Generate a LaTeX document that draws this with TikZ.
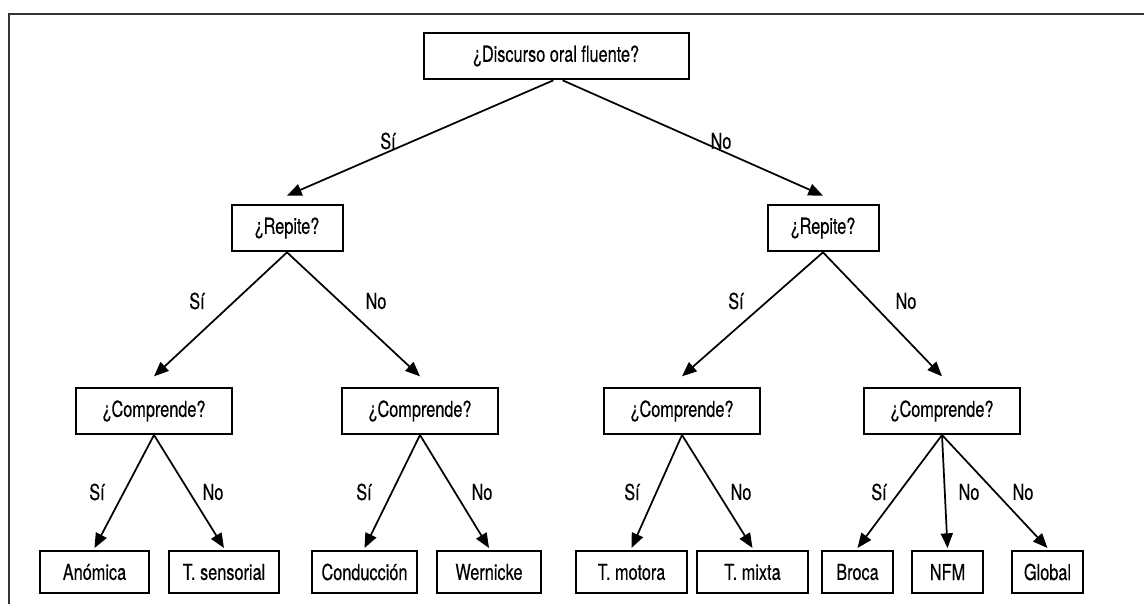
\documentclass[tikz,border=0pt]{standalone}
\usepackage{fontspec}
\setmainfont{TeX Gyre Heros}[FakeStretch=0.74,FakeBold=0.3]
\usepackage{tikz}
\usetikzlibrary{arrows.meta,positioning}
\tikzset{every node/.append style={font=\fontsize{16.5}{19}\selectfont}}

\begin{document}
\begin{tikzpicture}[x=0.75pt,y=-0.75pt,
  qbox/.style={draw,line width=1.5pt,inner sep=0pt,minimum height=35pt},
  leaf/.style={draw,line width=1.5pt,inner sep=0pt,minimum height=31.5pt},
  edge/.style={line width=1.3pt,-{Triangle[length=11pt,width=9pt]}},
  lab/.style={inner sep=1pt}]
\useasboundingbox (0,0) rectangle (1144,604);
\draw[line width=2.2pt,black!80] (9,604) -- (9,14) -- (1144,14);
% preguntas
\node[qbox,minimum width=198.75pt] (disc) at (556,56) {¿Discurso oral fluente?};
\node[qbox,minimum width=83.25pt] (repL) at (287,228) {¿Repite?};
\node[qbox,minimum width=83.25pt] (repR) at (823,228) {¿Repite?};
\node[qbox,minimum width=117pt,minimum height=34.5pt] (comA) at (154,411) {¿Comprende?};
\node[qbox,minimum width=117pt,minimum height=34.5pt] (comB) at (420,411) {¿Comprende?};
\node[qbox,minimum width=117pt,minimum height=34.5pt] (comC) at (682,411) {¿Comprende?};
\node[qbox,minimum width=117pt,minimum height=34.5pt] (comD) at (942,411) {¿Comprende?};
% diagnosticos
\node[leaf,minimum width=81.75pt] (anom) at (94.5,572) {Anómica};
\node[leaf,minimum width=82.5pt] (tsen) at (224,572) {T. sensorial};
\node[leaf,minimum width=78.75pt] (cond) at (364.5,572) {Conducción};
\node[leaf,minimum width=78pt] (wern) at (489,572) {Wernicke};
\node[leaf,minimum width=83.25pt] (tmot) at (631.5,572) {T. motora};
\node[leaf,minimum width=83.25pt] (tmix) at (752.5,572) {T. mixta};
\node[leaf,minimum width=53.25pt] (broc) at (857.5,572) {Broca};
\node[leaf,minimum width=53.25pt] (nfm) at (947.5,572) {NFM};
\node[leaf,minimum width=53.25pt] (glob) at (1047.5,572) {Global};
% flechas
\draw[edge] ([xshift=-2pt]disc.south) -- ([yshift=6pt]repL.north);
\draw[edge] ([xshift=5pt]disc.south) -- ([yshift=6pt]repR.north);
\draw[edge] (repL.south) -- ([yshift=8pt]comA.north);
\draw[edge] (repL.south) -- ([yshift=8pt]comB.north);
\draw[edge] (repR.south) -- ([yshift=8pt]comC.north);
\draw[edge] (repR.south) -- ([yshift=8pt]comD.north);
\draw[edge] (comA.south) -- ([yshift=1.5pt]anom.north);
\draw[edge] (comA.south) -- ([yshift=1.5pt]tsen.north);
\draw[edge] (comB.south) -- ([yshift=1.5pt]cond.north);
\draw[edge] (comB.south) -- ([yshift=1.5pt]wern.north);
\draw[edge] (comC.south) -- ([yshift=1.5pt]tmot.north);
\draw[edge] (comC.south) -- ([yshift=1.5pt]tmix.north);
\draw[edge] (comD.south) -- ([yshift=1.5pt]broc.north);
\draw[edge] (comD.south) -- ([yshift=1.5pt]nfm.north);
\draw[edge] (comD.south) -- ([yshift=1.5pt]glob.north);
% etiquetas
\node[lab] (s1) at (388,141) {Sí};
\node[lab] (n1) at (721,141) {No};
\node[lab] (s2) at (197,301) {Sí};
\node[lab] (n2) at (376,301) {No};
\node[lab] (s3) at (736,301) {Sí};
\node[lab] (n3) at (906,301) {No};
\node[lab] (s4) at (97,492) {Sí};
\node[lab] (n4) at (213,492) {No};
\node[lab] (s5) at (364,492) {Sí};
\node[lab] (n5) at (482,492) {No};
\node[lab] (s6) at (632,492) {Sí};
\node[lab] (n6) at (741,492) {No};
\node[lab] (s7) at (879,492) {Sí};
\node[lab] (n7) at (969,492) {No};
\node[lab] (n8) at (1023,492) {No};
\end{tikzpicture}
\end{document}
